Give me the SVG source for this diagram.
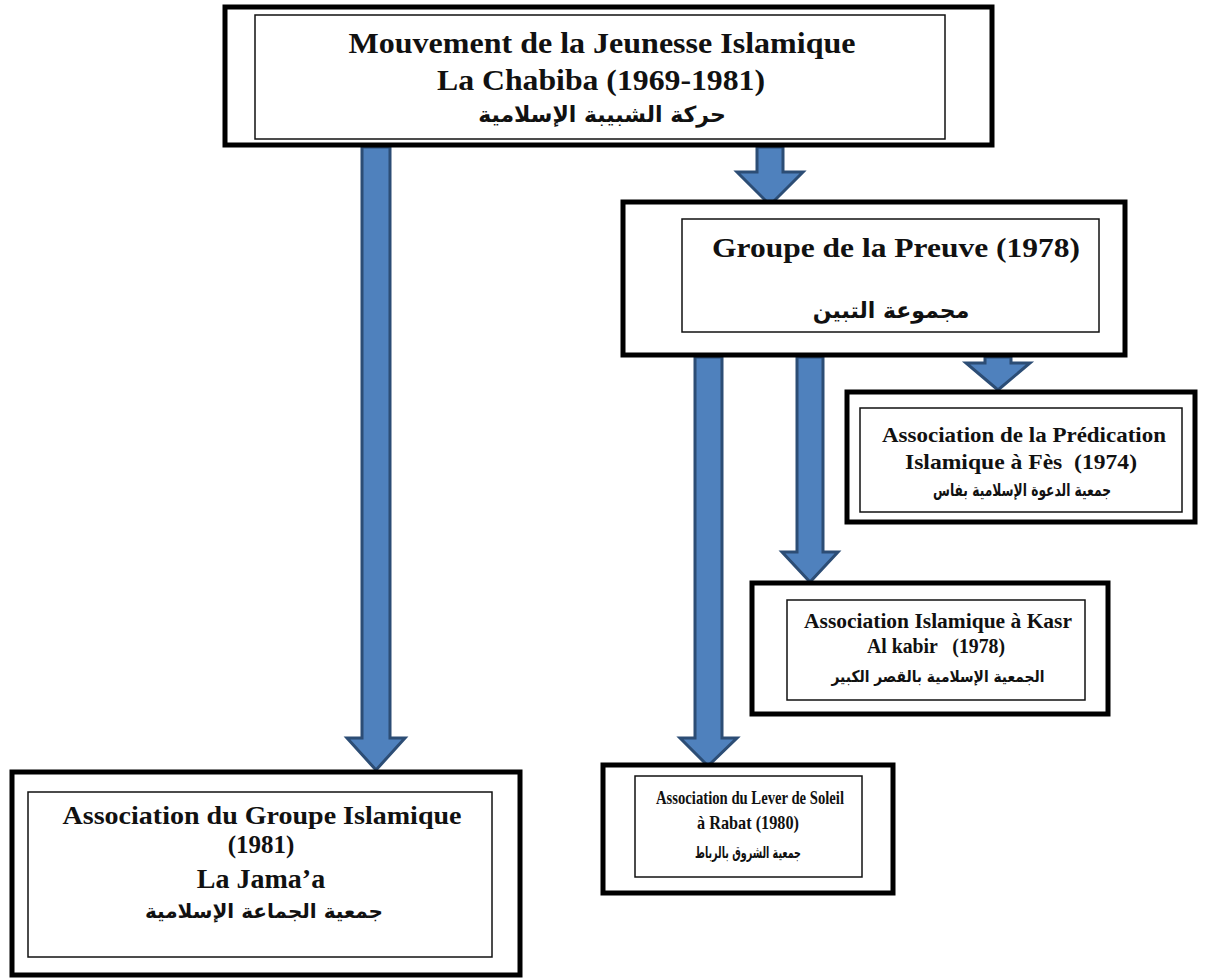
<svg xmlns="http://www.w3.org/2000/svg" width="1205" height="980" viewBox="0 0 1205 980">
<style>
.outer{fill:#fff;stroke:#000;stroke-width:5}
.inner{fill:#fff;stroke:#111;stroke-width:1.5}
.fr{font-family:"Liberation Serif","Times New Roman",serif;font-weight:bold;fill:#111;text-anchor:middle}
.ar{font-family:"DejaVu Sans","Noto Sans",sans-serif;font-weight:bold;fill:#111;text-anchor:middle}
.arrow{fill:#4F81BD;stroke:#2C4D75;stroke-width:3;stroke-linejoin:miter}
</style>
<rect width="1205" height="980" fill="#fff"/>
<g id="connectors">
<polygon id="c-main-jamaa" class="arrow" points="362,147 390,147 390,738 405,738 376,770 347,738 362,738"/>
<polygon id="c-main-preuve" class="arrow" points="757,147 783,147 783,172 803,172 770,205 737,172 757,172"/>
<polygon id="c-preuve-rabat" class="arrow" points="695,357 722,357 722,738 737,738 708,766 680,738 695,738"/>
<polygon id="c-preuve-kasr" class="arrow" points="797,357 823,357 823,552 838,552 810,582 782,552 797,552"/>
<polygon id="c-preuve-fes" class="arrow" points="985,357 1011,357 1011,363 1030,363 998,390 966,363 985,363"/>
</g>
<g id="node-chabiba">
<rect class="outer" x="225" y="7" width="767" height="138"/>
<rect class="inner" x="255" y="15" width="690" height="124"/>
<text class="fr" x="602" y="53" font-size="29" textLength="507" lengthAdjust="spacingAndGlyphs">Mouvement de la Jeunesse Islamique</text>
<text class="fr" x="601" y="90" font-size="29" textLength="328" lengthAdjust="spacingAndGlyphs">La Chabiba (1969-1981)</text>
<text class="ar" x="602" y="122" font-size="22" direction="rtl">حركة الشبيبة الإسلامية</text>
</g>
<g id="node-preuve">
<rect class="outer" x="623" y="202" width="502" height="153"/>
<rect class="inner" x="682" y="219" width="417" height="113"/>
<text class="fr" x="896" y="257" font-size="28" textLength="368" lengthAdjust="spacingAndGlyphs">Groupe de la Preuve (1978)</text>
<text class="ar" x="891" y="318" font-size="22" direction="rtl">مجموعة التبين</text>
</g>
<g id="node-fes">
<rect class="outer" x="847" y="392" width="348" height="130"/>
<rect class="inner" x="860" y="408" width="322" height="104"/>
<text class="fr" x="1024" y="442" font-size="21" textLength="284" lengthAdjust="spacingAndGlyphs">Association de la Prédication</text>
<text class="fr" x="1021" y="469" font-size="21" textLength="232" lengthAdjust="spacingAndGlyphs" xml:space="preserve">Islamique à Fès  (1974)</text>
<text class="ar" x="1022" y="496" font-size="17" textLength="178" lengthAdjust="spacingAndGlyphs" direction="rtl">جمعية الدعوة الإسلامية بفاس</text>
</g>
<g id="node-kasr">
<rect class="outer" x="752" y="583" width="356" height="131"/>
<rect class="inner" x="787" y="600" width="298" height="100"/>
<text class="fr" x="938" y="628" font-size="20" textLength="268" lengthAdjust="spacingAndGlyphs">Association Islamique à Kasr</text>
<text class="fr" x="936" y="653" font-size="20" textLength="138" lengthAdjust="spacingAndGlyphs" xml:space="preserve">Al kabir   (1978)</text>
<text class="ar" x="938" y="682" font-size="16" textLength="213" lengthAdjust="spacingAndGlyphs" direction="rtl">الجمعية الإسلامية بالقصر الكبير</text>
</g>
<g id="node-rabat">
<rect class="outer" x="603" y="765" width="290" height="128"/>
<rect class="inner" x="635" y="776" width="227" height="101"/>
<text class="fr" x="750" y="804" font-size="19" textLength="188" lengthAdjust="spacingAndGlyphs">Association du Lever de Soleil</text>
<text class="fr" x="748" y="829" font-size="19" textLength="102" lengthAdjust="spacingAndGlyphs">à Rabat (1980)</text>
<text class="ar" x="748" y="858" font-size="16" textLength="106" lengthAdjust="spacingAndGlyphs" direction="rtl">جمعية الشروق بالرباط</text>
</g>
<g id="node-jamaa">
<rect class="outer" x="12" y="772" width="508" height="203"/>
<rect class="inner" x="28" y="792" width="464" height="165"/>
<text class="fr" x="262" y="824" font-size="25" textLength="399" lengthAdjust="spacingAndGlyphs">Association du Groupe Islamique</text>
<text class="fr" x="261" y="853" font-size="25">(1981)</text>
<text class="fr" x="261" y="888" font-size="28">La Jama’a</text>
<text class="ar" x="264" y="918" font-size="20" direction="rtl">جمعية الجماعة الإسلامية</text>
</g>
</svg>
